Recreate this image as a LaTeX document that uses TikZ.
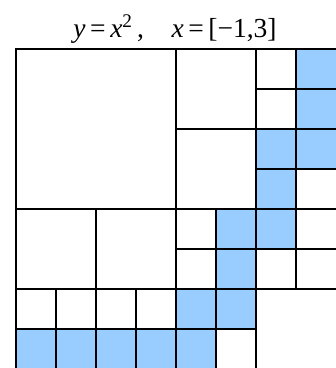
\documentclass[tikz,border=0pt]{standalone}
\usepackage{fontspec}
\setmainfont{Liberation Serif}
\definecolor{cellblue}{HTML}{99CCFF}
\begin{document}
\begin{tikzpicture}[x=1pt,y=-1pt,
  gridline/.style={line width=1.1pt,black},
  bluecell/.style={fill=cellblue}]
\useasboundingbox (0,0) rectangle (336,368);
% blue cells (col,row) -> x=16+40c, y=49+40r
\foreach \c/\r in {0/7,1/7,2/7,3/7,4/7,4/6,5/6,5/5,5/4,6/4,6/3,6/2,7/2,7/1,7/0}
  \fill[bluecell] ({16+40*\c},{49+40*\r}) rectangle ++(40,40);
% lines
\draw[gridline] (16,49) rectangle (337,370);
\draw[gridline] (176,49) -- (176,370);
\draw[gridline] (256,49) -- (256,370);
\draw[gridline] (296,49) -- (296,289);
\draw[gridline] (96,209) -- (96,370);
\draw[gridline] (216,209) -- (216,370);
\draw[gridline] (56,289) -- (56,370);
\draw[gridline] (136,289) -- (136,370);
\draw[gridline] (256,89) -- (337,89);
\draw[gridline] (176,129) -- (337,129);
\draw[gridline] (256,169) -- (337,169);
\draw[gridline] (16,209) -- (337,209);
\draw[gridline] (176,249) -- (337,249);
\draw[gridline] (16,289) -- (337,289);
\draw[gridline] (16,329) -- (256,329);
\node[font=\fontsize{27.5}{31}\selectfont, inner sep=0pt, anchor=base] (title) at (175,37)
  {\textit{y}\,=\,\textit{x}\textsuperscript{2}\,,\quad\textit{x}\,=\,[−1,3]};
\end{tikzpicture}
\end{document}
